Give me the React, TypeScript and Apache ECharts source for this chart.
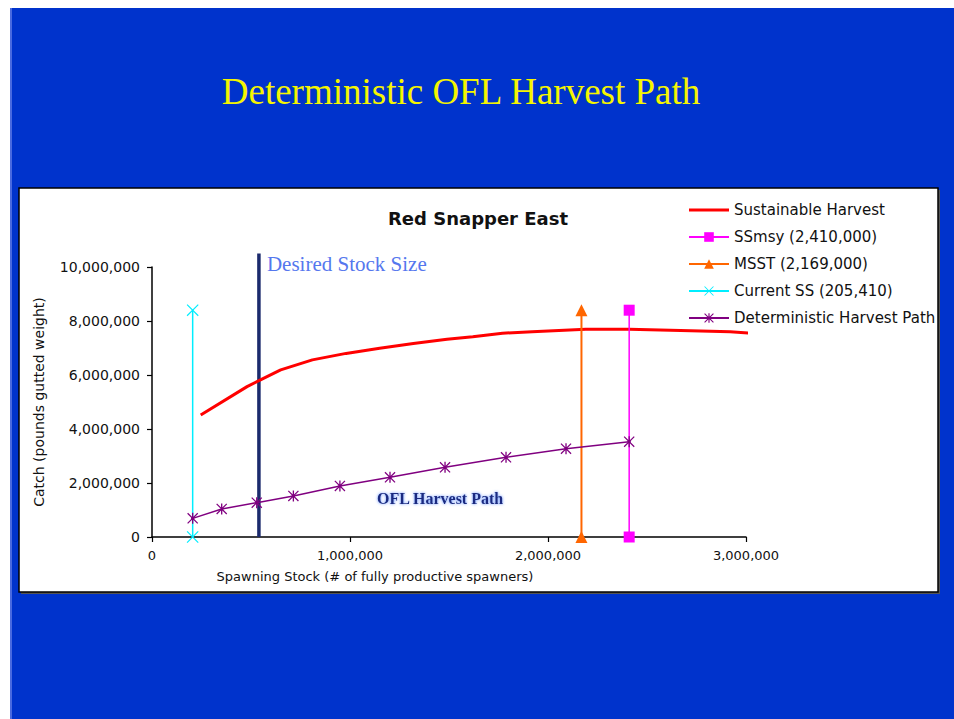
import React, { useEffect, useRef } from "react";
import * as echarts from "echarts";

// ---- data ----
const sustainableX = [246000, 480000, 540000, 650000, 810000, 980000, 1150000, 1320000, 1490000, 1620000, 1770000, 1920000, 2190000, 2410000, 2670000, 2920000, 3020000];
const sustainableY = [4520000, 5570000, 5790000, 6190000, 6560000, 6800000, 6990000, 7170000, 7320000, 7420000, 7550000, 7600000, 7690000, 7690000, 7650000, 7600000, 7550000];

const harvestX = [205410, 352000, 529000, 714000, 949000, 1202000, 1480000, 1788000, 2091000, 2410000];
const harvestY = [690000, 1040000, 1270000, 1520000, 1890000, 2210000, 2580000, 2950000, 3270000, 3530000];

const ssmsy = 2410000;
const msst = 2169000;
const currentSS = 205410;
const desiredSS = 540000;
const refLineTop = 8400000;
const desiredTop = 10500000;

const legendNames = [
  "Sustainable Harvest",
  "SSmsy (2,410,000)",
  "MSST (2,169,000)",
  "Current SS (205,410)",
  "Deterministic Harvest Path",
];
const xTicks = { min: 0, max: 3000000, interval: 1000000 };
const yTicks = { min: 0, max: 10000000, interval: 2000000 };
const oflLabelAt = [1455000, 1440000];

const STAR =
  "path://M4.4,0H5.6V10H4.4Z M0.8,0L10,9.2L9.2,10L0,0.8Z M9.2,0L10,0.8L0.8,10L0,9.2Z M3.5,3.5H6.5V6.5H3.5Z";
const XMARK = "path://M0.7,0L10,9.3L9.3,10L0,0.7Z M9.3,0L10,0.7L0.7,10L0,9.3Z";
const LINE_ICON = "path://M0,0H40V3H0Z";

const SANS = "DejaVu Sans";
const SERIF = "Liberation Serif";
const fmt = (v: number) => v.toLocaleString("en-US");

export default function App() {
  const ref = useRef<HTMLDivElement>(null);
  useEffect(() => {
    if (!ref.current) return;
    const chart = echarts.init(ref.current, null, { renderer: "svg" });
    const zip = (xs: number[], ys: number[]) => xs.map((x, i) => [x, ys[i]]);
    const option: any = {
      animation: false,
      backgroundColor: "#ffffff",
      graphic: [
        { type: "rect", z: -100, shape: { x: 10, y: 8, width: 944, height: 711 }, style: { fill: "#0033cc" } },
        { type: "rect", z: -99, shape: { x: 10, y: 8, width: 2, height: 711 }, style: { fill: "#4a6ae0" } },
        { type: "rect", z: -98, shape: { x: 21, y: 190, width: 919, height: 404 }, style: { fill: "#555555" } },
        { type: "rect", z: -97, shape: { x: 19, y: 188, width: 919, height: 404 }, style: { fill: "#ffffff", stroke: "#000000", lineWidth: 1.5 } },
        {
          type: "text", z: 10, x: 461, y: 91,
          style: { text: "Deterministic OFL Harvest Path", fill: "#f5f500", fontFamily: SERIF, fontSize: 37, align: "center", verticalAlign: "middle" },
        },
        {
          type: "text", z: 10, x: 478, y: 218,
          style: { text: "Red Snapper East", fill: "#111111", fontFamily: SANS, fontWeight: "bold", fontSize: 18, align: "center", verticalAlign: "middle" },
        },
      ],
      grid: { left: 152, right: 208, top: 267, bottom: 182, containLabel: false, outerBoundsMode: "none" },
      legend: {
        orient: "vertical",
        left: 683,
        top: 197,
        itemWidth: 40,
        itemHeight: 12,
        itemGap: 11,
        selectedMode: false,
        data: [{ name: legendNames[0], icon: LINE_ICON }, ...legendNames.slice(1)],
        textStyle: { fontFamily: SANS, fontSize: 15, color: "#111111", lineHeight: 16 },
      },
      xAxis: {
        type: "value",
        ...xTicks,
        axisLine: { show: true, onZero: false, lineStyle: { color: "#000", width: 1.5 } },
        axisTick: { show: true, length: 5, lineStyle: { color: "#000", width: 1.2 } },
        splitLine: { show: false },
        axisLabel: { formatter: fmt, fontFamily: SANS, fontSize: 13, color: "#111", margin: 12 },
        name: "Spawning Stock (# of fully productive spawners)",
        nameLocation: "middle",
        nameGap: 33,
        nameTextStyle: { fontFamily: SANS, fontSize: 13, color: "#111", padding: [0, 148, 0, 0] },
      },
      yAxis: {
        type: "value",
        ...yTicks,
        axisLine: { show: true, lineStyle: { color: "#000", width: 1.5 } },
        axisTick: { show: true, length: 5, lineStyle: { color: "#000", width: 1.2 } },
        splitLine: { show: false },
        axisLabel: { formatter: fmt, fontFamily: SANS, fontSize: 14, color: "#111", margin: 12 },
        name: "Catch (pounds gutted weight)",
        nameLocation: "middle",
        nameGap: 106,
        nameTextStyle: { fontFamily: SANS, fontSize: 14, color: "#111" },
      },
      series: [
        {
          name: "Desired Stock Size",
          type: "line",
          clip: false,
          z: 2,
          symbol: "circle",
          symbolSize: 0,
          lineStyle: { color: "#1b2a6d", width: 3.5 },
          itemStyle: { color: "#1b2a6d" },
          data: [
            [desiredSS, 0],
            {
              value: [desiredSS, desiredTop],
              label: {
                show: true,
                position: "right",
                distance: 8,
                offset: [0, 10],
                formatter: "Desired Stock Size",
                fontFamily: SERIF,
                fontSize: 21,
                color: "#5577ee",
              },
            },
          ],
        },
        {
          name: legendNames[0],
          type: "line",
          clip: false,
          z: 3,
          symbol: "none",
          lineStyle: { color: "#ff0000", width: 3 },
          itemStyle: { color: "#ff0000" },
          data: zip(sustainableX, sustainableY),
        },
        {
          name: legendNames[1],
          type: "line",
          clip: false,
          z: 4,
          symbol: "rect",
          symbolSize: 11,
          lineStyle: { color: "#ff00ff", width: 1.5 },
          itemStyle: { color: "#ff00ff" },
          data: [[ssmsy, 0], [ssmsy, refLineTop]],
        },
        {
          name: legendNames[2],
          type: "line",
          clip: false,
          z: 4,
          symbol: "triangle",
          symbolSize: 12,
          lineStyle: { color: "#ff6600", width: 2 },
          itemStyle: { color: "#ff6600" },
          data: [[msst, 0], [msst, refLineTop]],
        },
        {
          name: legendNames[3],
          type: "line",
          clip: false,
          z: 4,
          symbol: XMARK,
          symbolSize: 12,
          lineStyle: { color: "#00eeff", width: 1.5 },
          itemStyle: { color: "#00eeff" },
          data: [[currentSS, 0], [currentSS, refLineTop]],
        },
        {
          name: legendNames[4],
          type: "line",
          clip: false,
          z: 5,
          symbol: STAR,
          symbolSize: 11,
          lineStyle: { color: "#800080", width: 1.5 },
          itemStyle: { color: "#800080" },
          data: zip(harvestX, harvestY),
          markPoint: {
            silent: true,
            symbol: "circle",
            symbolSize: 0,
            label: {
              show: true,
              position: "inside",
              formatter: "OFL Harvest Path",
              fontFamily: SERIF,
              fontWeight: "bold",
              fontSize: 16,
              color: "#1a2a80",
              textShadowColor: "#5f8cff",
              textShadowBlur: 3,
            },
            data: [{ coord: oflLabelAt }],
          },
        },
      ],
    };
    chart.setOption(option);
    return () => chart.dispose();
  }, []);
  return (
    <div
      ref={ref}
      style={{ position: "absolute", left: 0, top: 0, width: 954, height: 719 }}
    />
  );
}
